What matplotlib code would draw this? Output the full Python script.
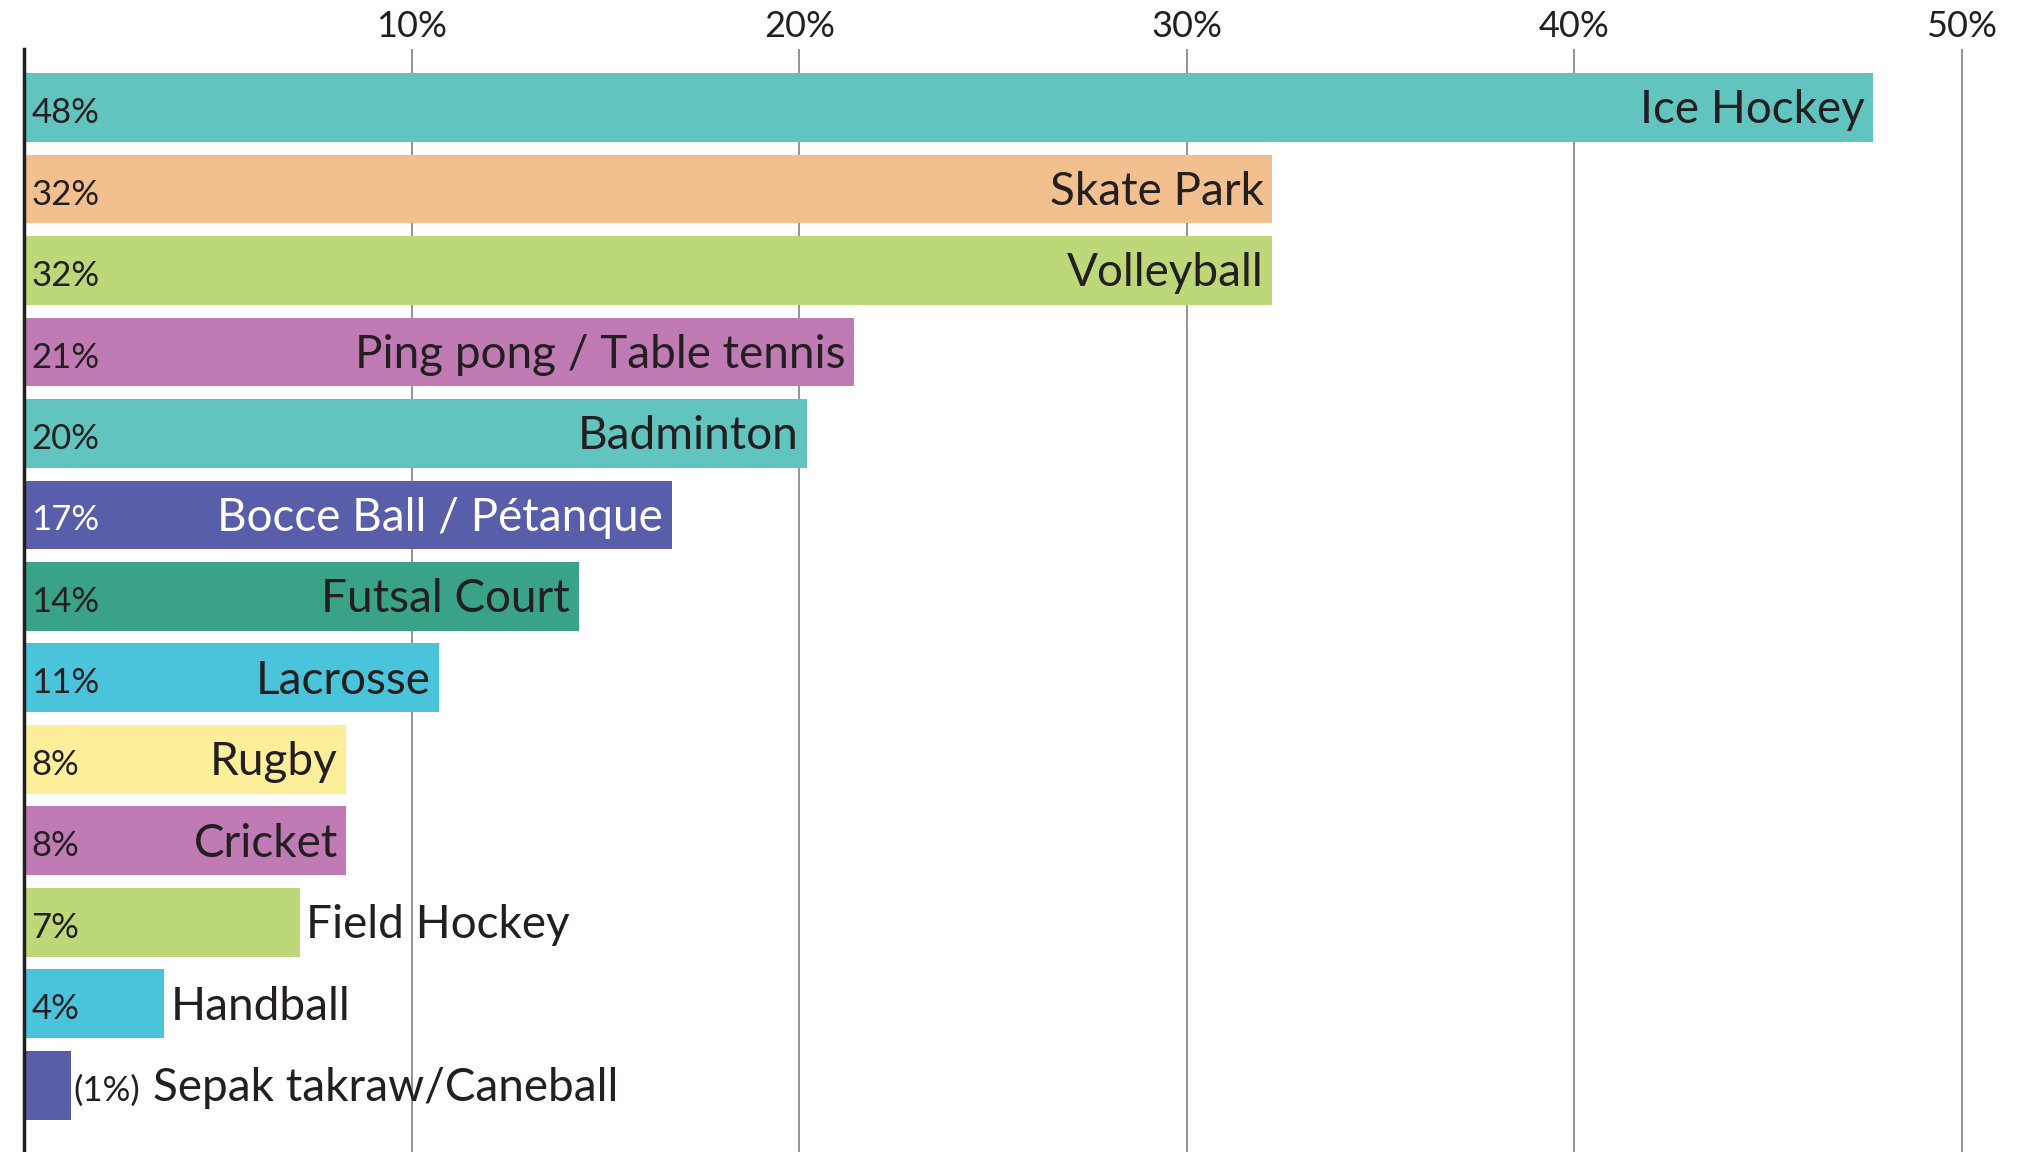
import matplotlib.pyplot as plt

# 数据
sports = ["Ice Hockey", "Skate Park", "Volleyball", "Ping pong / Table tennis",
          "Badminton", "Bocce Ball / Pétanque", "Futsal Court", "Lacrosse",
          "Rugby", "Cricket", "Field Hockey", "Handball", "Sepak takraw/Caneball"]
values = [47.7, 32.2, 32.2, 21.4, 20.2, 16.7, 14.3, 10.7, 8.3, 8.3, 7.1, 3.6, 1.2]
pct_labels = ["48%", "32%", "32%", "21%", "20%", "17%", "14%", "11%",
              "8%", "8%", "7%", "4%", "(1%)"]
colors = ["#62C4BE", "#F2C08E", "#BCD879", "#C07BB4", "#62C4BE", "#585EA9",
          "#3AA387", "#4AC4DB", "#FDEE9A", "#C07BB4", "#BCD879", "#4AC4DB", "#585EA9"]
ticks = [10, 20, 30, 40, 50]

plt.rcParams["font.family"] = ["Lato", "DejaVu Sans"]
dark = "#231F20"

fig = plt.figure(figsize=(20.18, 11.52), dpi=100)
ax = fig.add_axes([0.0121, 0.0, 0.9879, 0.9575])

y = list(range(len(sports)))
ax.barh(y, values, height=0.845, color=colors, zorder=2)

ax.set_xlim(0, 51.45)
ax.set_ylim(12.82, -0.72)

# 网格线
for t in ticks:
    ax.axvline(t, color="#777777", lw=1.1, zorder=1)

ax.xaxis.tick_top()
ax.set_xticks(ticks)
ax.set_xticklabels([f"{t}%" for t in ticks], fontsize=26, color=dark)
ax.tick_params(axis="x", length=0, pad=4)
ax.set_yticks([])
for s in ["top", "right", "bottom"]:
    ax.spines[s].set_visible(False)
ax.spines["left"].set_linewidth(2.5)
ax.spines["left"].set_color(dark)
ax.spines["left"].set_zorder(3)

# 标签
for i, (name, v, p) in enumerate(zip(sports, values, pct_labels)):
    tc = "white" if colors[i] == "#585EA9" else dark
    if v >= 8:
        ax.annotate(p, (0, i), xytext=(5, -4), textcoords="offset points",
                    va="center", ha="left", fontsize=25, color=tc, zorder=4)
        ax.annotate(name, (v, i), xytext=(-6, -2), textcoords="offset points",
                    va="center", ha="right", fontsize=33, color=tc, zorder=4)
    elif v >= 2:
        ax.annotate(p, (0, i), xytext=(5, -4), textcoords="offset points",
                    va="center", ha="left", fontsize=25, color=dark, zorder=4)
        ax.annotate(name, (v, i), xytext=(5, -2), textcoords="offset points",
                    va="center", ha="left", fontsize=33, color=dark, zorder=4)
    else:
        t = ax.annotate(p, (v, i), xytext=(2, -4), textcoords="offset points",
                        va="center", ha="left", fontsize=25, color=dark, zorder=4)
        ax.annotate(name, (1, 0.5), xycoords=t, xytext=(9, 2),
                    textcoords="offset points", va="center", ha="left",
                    fontsize=33, color=dark, zorder=4)

plt.savefig("out.png", dpi=100)
